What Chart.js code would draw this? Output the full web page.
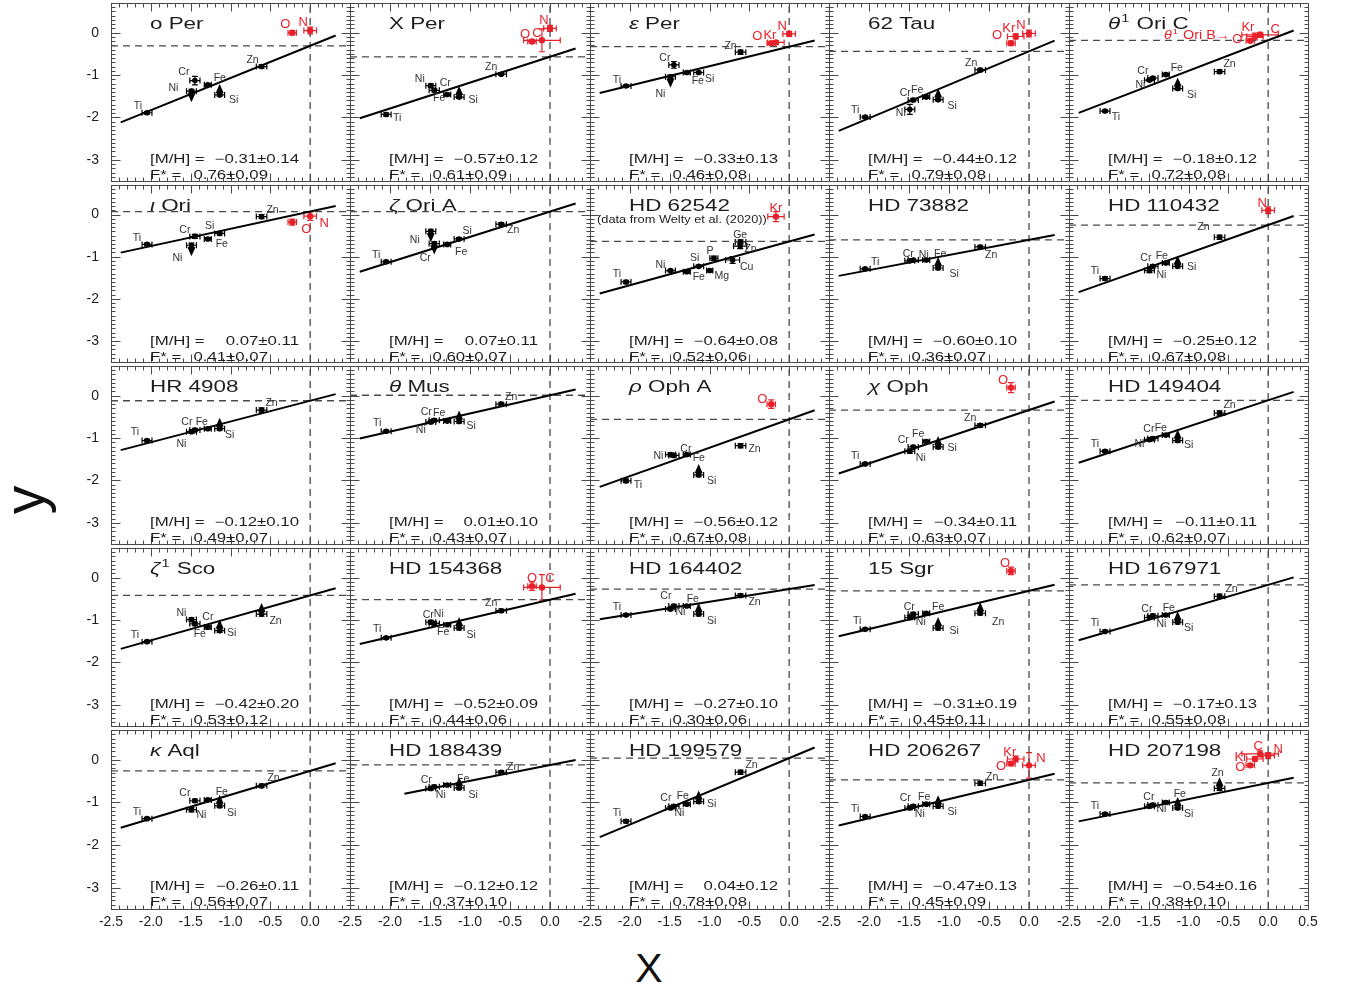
<!DOCTYPE html>
<html>
<head>
<meta charset="utf-8">
<title>Depletion panels</title>
<script src="https://cdn.jsdelivr.net/npm/chart.js@4.4.1/dist/chart.umd.min.js"></script>
<style>
html,body{margin:0;padding:0;background:#fff;}
body{width:1349px;height:994px;position:relative;overflow:hidden;font-family:"Liberation Sans",Arial,sans-serif;}
canvas{position:absolute;}
#ytitle{position:absolute;left:24px;top:500px;font-size:57px;line-height:1;color:#111;transform:translate(-50%,-50%) rotate(-90deg);}
#xtitle{position:absolute;left:649px;top:968px;font-size:41px;line-height:1;color:#111;transform:translate(-50%,-50%);}
</style>
</head>
<body>
<div id="ytitle">y</div>
<div id="xtitle">X</div>
<script>
// ---- data ----
const stars = ['o Per','X Per','ε Per','62 Tau','θ¹ Ori C',
  'ι Ori','ζ Ori A','HD 62542','HD 73882','HD 110432',
  'HR 4908','θ Mus','ρ Oph A','χ Oph','HD 149404',
  'ζ¹ Sco','HD 154368','HD 164402','15 Sgr','HD 167971',
  'κ Aql','HD 188439','HD 199579','HD 206267','HD 207198'];
const metal    = [-0.31,-0.57,-0.33,-0.44,-0.18, 0.07,0.07,-0.64,-0.60,-0.25, -0.12,0.01,-0.56,-0.34,-0.11, -0.42,-0.52,-0.27,-0.31,-0.17, -0.26,-0.12,0.04,-0.47,-0.54];
const metalErr = [0.14,0.12,0.13,0.12,0.12, 0.11,0.11,0.08,0.10,0.12, 0.10,0.10,0.12,0.11,0.11, 0.20,0.09,0.10,0.19,0.13, 0.11,0.12,0.12,0.13,0.16];
const fstar    = [0.76,0.61,0.46,0.79,0.72, 0.41,0.60,0.52,0.36,0.67, 0.49,0.43,0.67,0.63,0.62, 0.53,0.44,0.30,0.45,0.55, 0.56,0.37,0.78,0.45,0.38];
const fstarErr = [0.09,0.09,0.08,0.08,0.08, 0.07,0.07,0.06,0.07,0.08, 0.07,0.07,0.08,0.07,0.07, 0.12,0.06,0.06,0.11,0.08, 0.07,0.10,0.08,0.09,0.10];

// element depletion slopes (x position) and their uncertainties
const elemX    = {C:-0.101,N:0.000,O:-0.225,Mg:-0.997,Si:-1.136,P:-0.945,Ti:-2.048,Cr:-1.447,Fe:-1.285,Ni:-1.490,Cu:-0.710,Zn:-0.610,Ge:-0.615,Kr:-0.166};
const elemXErr = {C:0.229,N:0.079,O:0.053,Mg:0.039,Si:0.062,P:0.051,Ti:0.062,Cr:0.064,Fe:0.044,Ni:0.062,Cu:0.088,Zn:0.066,Ge:0.083,Kr:0.103};
const volatile = ['C','N','O','Kr'];

// [element, y, y error, limit (1 = lower limit, -1 = upper limit)]
const abund = [
  [['Ti',-1.89,.03],['Cr',-1.13,.10],['Ni',-1.38,.04,-1],['Fe',-1.23,.03],['Si',-1.47,.03,1],['Zn',-0.80,.04],['O',0.00,.05],['N',0.05,.08]],
  [['Ti',-1.93,.04],['Ni',-1.25,.04],['Cr',-1.36,.04],['Fe',-1.46,.03],['Si',-1.52,.03,1],['Zn',-0.98,.03],['O',-0.21,.04],['C',-0.18,.27],['N',0.10,.07]],
  [['Ti',-1.26,.03],['Cr',-0.76,.08],['Ni',-1.04,.04,-1],['Fe',-0.94,.03],['Si',-0.94,.03],['Zn',-0.46,.05],['O',-0.25,.03],['Kr',-0.23,.04],['N',-0.03,.06]],
  [['Ti',-1.99,.03],['Cr',-1.59,.04],['Ni',-1.81,.12],['Fe',-1.52,.03],['Si',-1.58,.03,1],['Zn',-0.88,.04],['O',-0.25,.05],['Kr',-0.09,.06],['N',-0.02,.08]],
  [['Ti',-1.85,.03],['Ni',-1.12,.03],['Cr',-1.07,.03],['Fe',-0.99,.03],['Si',-1.32,.03,1],['Zn',-0.92,.04],['O',-0.19,.04],['Kr',-0.09,.08],['C',-0.05,.06]],
  [['Ti',-0.71,.03],['Cr',-0.52,.05],['Ni',-0.73,.05,-1],['Fe',-0.58,.03],['Si',-0.45,.04],['Zn',-0.05,.05],['O',-0.18,.07],['N',-0.04,.10]],
  [['Ti',-1.12,.03],['Ni',-0.40,.05,-1],['Cr',-0.69,.04,-1],['Fe',-0.71,.03],['Si',-0.58,.03],['Zn',-0.23,.04]],
  [['Ti',-1.60,.04],['Ni',-1.33,.03],['Fe',-1.36,.03],['Si',-1.23,.03],['Mg',-1.33,.03],['P',-1.04,.05],['Cu',-1.08,.08],['Ge',-0.75,.06],['Zn',-0.65,.05],['Kr',-0.05,.12]],
  [['Ti',-1.29,.03],['Ni',-1.10,.03],['Cr',-1.08,.03],['Fe',-1.08,.03],['Si',-1.27,.04,1],['Zn',-0.77,.04]],
  [['Ti',-1.52,.04],['Cr',-1.23,.04],['Ni',-1.33,.05],['Fe',-1.15,.03],['Si',-1.23,.04,1],['Zn',-0.54,.05],['N',0.10,.08]],
  [['Ti',-1.06,.03],['Cr',-0.81,.04],['Ni',-0.85,.04],['Fe',-0.78,.03],['Si',-0.78,.04,1],['Zn',-0.34,.05]],
  [['Ti',-0.84,.03],['Cr',-0.58,.04],['Ni',-0.62,.04],['Fe',-0.60,.03],['Si',-0.61,.04,1],['Zn',-0.20,.04]],
  [['Ti',-2.01,.04],['Ni',-1.39,.04],['Cr',-1.41,.04],['Fe',-1.39,.03],['Si',-1.87,.04,1],['Zn',-1.18,.05],['O',-0.20,.10]],
  [['Ti',-1.61,.03],['Cr',-1.21,.04],['Ni',-1.31,.05],['Fe',-1.08,.03],['Si',-1.21,.04,1],['Zn',-0.70,.04],['O',0.19,.12]],
  [['Ti',-1.31,.03],['Cr',-1.01,.04],['Ni',-1.04,.04],['Fe',-0.93,.03],['Si',-1.06,.04,1],['Zn',-0.41,.05]],
  [['Ti',-1.51,.03],['Ni',-0.99,.04],['Cr',-1.09,.04],['Fe',-1.17,.04],['Si',-1.25,.04,1],['Zn',-0.86,.05,1]],
  [['Ti',-1.42,.03],['Cr',-1.08,.04],['Ni',-1.05,.04],['Fe',-1.11,.03],['Si',-1.19,.04,1],['Zn',-0.78,.04],['O',-0.20,.10],['C',-0.23,.30]],
  [['Ti',-0.88,.03],['Cr',-0.67,.04],['Ni',-0.74,.04],['Fe',-0.67,.03],['Si',-0.86,.04,1],['Zn',-0.42,.04]],
  [['Ti',-1.22,.03],['Cr',-0.86,.04],['Ni',-0.94,.05],['Fe',-0.84,.03],['Si',-1.19,.04,1],['Zn',-0.84,.04,1],['O',0.16,.09]],
  [['Ti',-1.27,.03],['Cr',-0.90,.04],['Ni',-0.94,.04],['Fe',-0.88,.03],['Si',-1.05,.04,1],['Zn',-0.44,.05]],
  [['Ti',-1.38,.03],['Cr',-0.96,.04],['Ni',-1.17,.05],['Fe',-0.94,.03],['Si',-1.08,.04,1],['Zn',-0.61,.04]],
  [['Cr',-0.63,.04],['Ni',-0.67,.04],['Fe',-0.59,.03],['Si',-0.66,.04,1],['Zn',-0.29,.04]],
  [['Ti',-1.44,.04],['Cr',-1.09,.04],['Ni',-1.13,.04],['Fe',-1.04,.03],['Si',-0.98,.04,1],['Zn',-0.29,.05]],
  [['Ti',-1.33,.03],['Cr',-1.09,.04],['Ni',-1.13,.04],['Fe',-1.04,.03],['Si',-1.09,.04,1],['Zn',-0.55,.05],['O',-0.09,.04],['Kr',0.02,.07],['N',-0.13,.30]],
  [['Ti',-1.27,.03],['Cr',-1.06,.04],['Ni',-1.09,.04],['Fe',-1.00,.03],['Si',-1.13,.04,1],['Zn',-0.67,.05,1],['O',-0.13,.04],['Kr',0.02,.05],['C',0.14,.07],['N',0.10,.07]]
];

const xTicks = [-2.5,-2.0,-1.5,-1.0,-0.5,0.0,0.5];
const yTicks = [0,-1,-2,-3];
const notes  = {7:'(data from Welty et al. (2020))'};
const annot  = {4:{text:'θ¹ Ori B→', el:'O'}};

// ---- label placement (pixel offsets from the point) ----
const labelOff = [
  'Ti -9 -7|Cr -11 -8|Ni -18 -3|Fe 12 -7|Si 14 5|Zn -9 -6|O -7 -8|N -7 -8',
  'Ti 11 4|Ni -11 -7|Cr 11 -7|Fe -8 4|Si 14 3|Zn -10 -7|O -7 -7|C -5 -7|N -6 -8',
  'Ti -9 -6|Cr -9 -7|Ni -10 17|Fe 11 9|Si 11 7|Zn -10 -6|O -14 -7|Kr -6 -7|N -7 -8',
  'Ti -10 -7|Cr -8 -7|Ni -9 4|Fe -9 -7|Si 14 6|Zn -9 -7|O -14 -8|Kr -7 -8|N -8 -8',
  'Ti 11 6|Ni -9 5|Cr -10 -7|Fe 11 -7|Si 14 6|Zn 10 -8|O -13 -1|Kr -7 -9|C 15 -5',
  'Ti -10 -6|Cr -10 -6|Ni -14 13|Fe 14 5|Si -10 -7|Zn 11 -6|O 14 7|N 14 7',
  'Ti -10 -7|Ni -16 9|Cr -9 15|Fe 14 8|Si 8 -8|Zn 12 6',
  'Ti -9 -8|Ni -10 -5|Fe 12 5|Si -4 -8|Mg 12 6|P -4 -7|Cu 14 7|Ge 0 -11|Zn 10 7|Kr 0 -8',
  'Ti 10 -7|Cr -5 -6|Ni 14 -6|Fe 14 -6|Si 16 6|Zn 11 8',
  'Ti -10 -7|Cr -7 -8|Fe -4 -7|Ni 12 5|Si 14 1|Zn -16 -10|N -6 -7',
  'Ti -12 -8|Cr -8 -8|Fe -6 -7|Ni -10 12|Si 10 6|Zn 10 -7',
  'Ti -9 -8|Cr -8 -8|Fe -8 -8|Ni -10 8|Si 12 5|Zn 10 -7',
  'Ti 12 4|Ni -12 2|Cr 12 -6|Fe 12 4|Si 13 6|Zn 14 3|O -9 -5',
  'Ti -10 -8|Cr -10 -7|Fe -8 -7|Ni 11 7|Si 14 1|Zn -10 -7|O -8 -7',
  'Ti -10 -7|Cr -4 -9|Fe -5 -7|Ni -10 4|Si 11 5|Zn 10 -8',
  'Ti -12 -7|Ni -10 -7|Cr 13 -7|Fe -8 7|Si 12 2|Zn 14 7',
  'Ti -9 -9|Cr -6 -8|Ni 8 -8|Fe -4 7|Si 12 7|Zn -10 -8|O 0 -8|C 8 -9',
  'Ti -9 -8|Cr -8 -10|Ni 10 3|Fe 6 -7|Si 13 7|Zn 14 7',
  'Ti -8 -8|Cr -4 -7|Ni 11 5|Fe 12 -6|Si 16 3|Zn 18 9|O -6 -7',
  'Ti -10 -8|Cr -6 -7|Ni 12 7|Fe 3 -7|Si 11 6|Zn 12 -7',
  'Ti -10 -7|Cr -10 -8|Ni 10 5|Fe 14 -8|Si 12 7|Zn 12 -8',
  'Cr -8 -7|Ni 10 7|Fe 16 -6|Si 14 7|Zn 12 -5',
  'Ti -9 -8|Cr -8 -8|Ni 9 5|Fe -4 -8|Si 13 3|Zn 11 -7',
  'Ti -10 -7|Cr -8 -8|Ni 10 6|Fe -2 -7|Si 14 6|Zn 12 -6|O -10 3|Kr -6 -7|N 12 -7',
  'Ti -10 -8|Cr -4 -8|Ni 12 3|Fe 14 -8|Si 11 6|Zn -2 -15|O -10 2|Kr -14 -2|C -2 -7|N 10 -6'
];

// ---- layout / style ----
const RED = '#e8202a', INK = '#1e1e1e', AXC = '#4a4a4a';
const FONT = '"Liberation Sans", Arial, Helvetica, sans-serif';
const colLeft = [111,350,590,829,1069,1308];
const rowTop  = [1,183,364,546,728,909];
const ARROW = 0.26;
const GREEK = 'αβγδεζηθικλμνξπρστυφχψω';

function parseOff(s){
  const o = {};
  s.split('|').forEach(t=>{ const p = t.split(' '); o[p[0]] = [+p[1], +p[2]]; });
  return o;
}
function fmt(v){ return (v<0 ? '\u2212' : '') + Math.abs(v).toFixed(2); }

function richParts(s){
  if (GREEK.includes(s[0])){
    if (s[1]==='¹') return [{t:s[0],it:1},{t:'1',sup:1},{t:s.slice(2)}];
    return [{t:s[0],it:1},{t:s.slice(1)}];
  }
  return [{t:s}];
}
function drawRich(ctx, s, x, y, size, sx, color, align){
  const parts = richParts(s);
  ctx.save();
  ctx.fillStyle = color; ctx.textBaseline = 'alphabetic'; ctx.textAlign = 'left';
  parts.forEach(p=>{
    const sz = p.sup ? size*0.65 : size;
    p.font = (p.it ? 'italic ' : '') + sz + 'px ' + FONT;
    ctx.font = p.font;
    p.w = ctx.measureText(p.t).width * sx + (p.sup ? 2 : 0);
  });
  const total = parts.reduce((a,p)=>a+p.w, 0);
  let cx = align==='right' ? x-total : align==='center' ? x-total/2 : x;
  parts.forEach(p=>{
    ctx.save();
    ctx.font = p.font;
    ctx.translate(cx + (p.sup?1:0), y - (p.sup ? size*0.42 : 0));
    ctx.scale(sx, 1);
    ctx.fillText(p.t, 0, 0);
    ctx.restore();
    cx += p.w;
  });
  ctx.restore();
}

function errBar(ctx, xs, ys, x, y, ex, ey, color){
  const px = xs.getPixelForValue(x), py = ys.getPixelForValue(y);
  const x1 = xs.getPixelForValue(x-ex), x2 = xs.getPixelForValue(x+ex);
  const y1 = ys.getPixelForValue(y-ey), y2 = ys.getPixelForValue(y+ey);
  ctx.strokeStyle = color; ctx.lineWidth = 1.2;
  ctx.beginPath();
  ctx.moveTo(x1,py); ctx.lineTo(x2,py);
  ctx.moveTo(x1,py-3); ctx.lineTo(x1,py+3);
  ctx.moveTo(x2,py-3); ctx.lineTo(x2,py+3);
  ctx.moveTo(px,y1); ctx.lineTo(px,y2);
  ctx.moveTo(px-3,y1); ctx.lineTo(px+3,y1);
  ctx.moveTo(px-3,y2); ctx.lineTo(px+3,y2);
  ctx.stroke();
}

function limitArrow(ctx, xs, ys, x, y, dir){
  const px = xs.getPixelForValue(x), py = ys.getPixelForValue(y);
  const pt = ys.getPixelForValue(y + dir*ARROW);
  ctx.strokeStyle = '#000'; ctx.fillStyle = '#000'; ctx.lineWidth = 1;
  ctx.setLineDash([2,2]);
  ctx.beginPath(); ctx.moveTo(px, py); ctx.lineTo(px, pt + dir*7); ctx.stroke();
  ctx.setLineDash([]);
  ctx.beginPath();
  ctx.moveTo(px, pt); ctx.lineTo(px-4, pt + dir*9); ctx.lineTo(px+4, pt + dir*9); ctx.closePath();
  ctx.fill();
}

function frame(ctx, ar, xs, ys){
  ctx.strokeStyle = AXC; ctx.lineWidth = 1;
  ctx.strokeRect(Math.round(ar.left)+0.5, Math.round(ar.top)+0.5, Math.round(ar.width), Math.round(ar.height));
  ctx.beginPath();
  const b = Math.round(ar.bottom)+0.5, t = Math.round(ar.top)+0.5;
  const l = Math.round(ar.left)+0.5, r = Math.round(ar.right)+0.5;
  for (let k=-25; k<=5; k++){
    const px = Math.round(xs.getPixelForValue(k/10))+0.5;
    const len = k%5===0 ? 8 : 4;
    ctx.moveTo(px,b); ctx.lineTo(px,b-len);
    ctx.moveTo(px,t); ctx.lineTo(px,t+len);
  }
  for (let k=-35; k<=7; k++){
    const py = Math.round(ys.getPixelForValue(k/10))+0.5;
    const len = k%10===0 ? 9 : 4;
    ctx.moveTo(l,py); ctx.lineTo(l+len,py);
    ctx.moveTo(r,py); ctx.lineTo(r-len,py);
  }
  ctx.stroke();
}

const panelArt = {
  id: 'panelArt',
  beforeDatasetsDraw(chart, args, opts){
    const ctx = chart.ctx, xs = chart.scales.x, ys = chart.scales.y;
    ctx.save();
    abund[opts.i].forEach(([el,y,ey])=>{
      errBar(ctx, xs, ys, elemX[el], y, elemXErr[el], ey, volatile.includes(el) ? RED : '#000');
    });
    ctx.restore();
  },
  afterDatasetsDraw(chart, args, opts){
    const i = opts.i, ctx = chart.ctx, ar = chart.chartArea;
    const xs = chart.scales.x, ys = chart.scales.y;
    ctx.save();
    abund[i].forEach(([el,y,ey,lim])=>{ if (lim) limitArrow(ctx, xs, ys, elemX[el], y, lim); });
    const off = parseOff(labelOff[i]);
    ctx.textAlign = 'center'; ctx.textBaseline = 'middle';
    abund[i].forEach(([el,y])=>{
      const red = volatile.includes(el);
      const d = off[el] || [-9,-7];
      ctx.font = (red ? 13 : 10.5) + 'px ' + FONT;
      ctx.fillStyle = red ? RED : '#333';
      ctx.fillText(el, xs.getPixelForValue(elemX[el]) + d[0], ys.getPixelForValue(y) + d[1]);
    });
    if (annot[i]){
      const a = annot[i], p = abund[i].find(e=>e[0]===a.el);
      drawRich(ctx, a.text, xs.getPixelForValue(elemX[a.el]) - 20, ys.getPixelForValue(p[1]) - 2, 12, 1.2, RED, 'right');
    }
    frame(ctx, ar, xs, ys);
    drawRich(ctx, stars[i], ar.left+39, ar.top+26, 16, 1.4, INK, 'left');
    if (notes[i]) drawRich(ctx, notes[i], ar.left+7, ar.top+38, 10, 1.28, INK, 'left');
    drawRich(ctx, '[M/H] =', ar.left+39, ar.top+160, 12, 1.4, INK, 'left');
    drawRich(ctx, fmt(metal[i]) + '±' + metalErr[i].toFixed(2), ar.left+188, ar.top+160, 12, 1.4, INK, 'right');
    drawRich(ctx, 'F* =', ar.left+39, ar.top+176, 12, 1.4, INK, 'left');
    drawRich(ctx, fstar[i].toFixed(2) + '±' + fstarErr[i].toFixed(2), ar.left+157, ar.top+176, 12, 1.4, INK, 'right');
    ctx.restore();
  }
};

function makePanel(i){
  const c = i % 5, r = Math.floor(i / 5);
  const isLeft = c === 0, isBottom = r === 4;
  const W = colLeft[c+1] - colLeft[c], H = rowTop[r+1] - rowTop[r];
  const padL = 16, padR = 16, padT = 2, padB = 2;
  const yAxisW = isLeft ? 50 : 0, xAxisH = isBottom ? 28 : 0;
  const cv = document.createElement('canvas');
  cv.width = W + padL + padR + yAxisW;
  cv.height = H + padT + padB + xAxisH;
  cv.style.left = (colLeft[c] - padL - yAxisW) + 'px';
  cv.style.top = (rowTop[r] - padT) + 'px';
  cv.style.width = cv.width + 'px';
  cv.style.height = cv.height + 'px';
  document.body.appendChild(cv);

  const mh = metal[i], fs = fstar[i];
  const pts = abund[i];
  const x0 = Math.min(...pts.map(p=>elemX[p[0]])) - 0.33, x1 = 0.32;
  const black = pts.filter(p=>!volatile.includes(p[0])).map(p=>({x:elemX[p[0]], y:p[1]}));
  const red = pts.filter(p=>volatile.includes(p[0])).map(p=>({x:elemX[p[0]], y:p[1]}));

  const xScale = {
    type:'linear', min:-2.5, max:0.5, display:isBottom,
    grid:{display:false, drawTicks:false}, border:{display:false},
    ticks:{ stepSize:0.5, autoSkip:false, maxRotation:0, padding:5, color:INK, font:{family:FONT, size:14},
      callback:(v)=> xTicks.some(t=>Math.abs(t-v)<1e-6) && !(c<4 && Math.abs(v-0.5)<1e-6) ? v.toFixed(1) : '' }
  };
  if (isBottom) xScale.afterFit = (s)=>{ s.height = xAxisH; s.paddingLeft = 0; s.paddingRight = 0; };
  const yScale = {
    type:'linear', min:-3.5, max:0.7, display:isLeft,
    grid:{display:false, drawTicks:false}, border:{display:false},
    ticks:{ stepSize:1, autoSkip:false, padding:12, color:INK, font:{family:FONT, size:14},
      callback:(v)=> yTicks.some(t=>Math.abs(t-v)<1e-6) ? String(Math.round(v)) : '' }
  };
  if (isLeft) yScale.afterFit = (s)=>{ s.width = yAxisW; s.paddingTop = 0; s.paddingBottom = 0; };

  new Chart(cv, {
    type:'scatter',
    data:{ datasets:[
      { type:'scatter', data:black, pointRadius:2.8, pointBackgroundColor:'#000', pointBorderWidth:0, order:0 },
      { type:'scatter', data:red, pointRadius:3.2, pointBackgroundColor:RED, pointBorderWidth:0, order:0 },
      { type:'line', data:[{x:x0, y:mh+fs*x0},{x:x1, y:mh+fs*x1}], borderColor:'#000', borderWidth:2, pointRadius:0, order:1 },
      { type:'line', data:[{x:-2.5, y:mh},{x:0.5, y:mh}], borderColor:'#4a4a4a', borderWidth:1.3, borderDash:[7,5], pointRadius:0, order:2 },
      { type:'line', data:[{x:0, y:-3.5},{x:0, y:0.7}], borderColor:'#4a4a4a', borderWidth:1.3, borderDash:[7,5], pointRadius:0, order:2 }
    ]},
    options:{
      responsive:false, maintainAspectRatio:false, animation:false, events:[],
      layout:{ padding:{left:padL, right:padR, top:padT, bottom:padB} },
      plugins:{ legend:{display:false}, tooltip:{enabled:false}, panelArt:{i} },
      scales:{ x:xScale, y:yScale }
    },
    plugins:[panelArt]
  });
}

for (let i=0; i<stars.length; i++) makePanel(i);
</script>
</body>
</html>
